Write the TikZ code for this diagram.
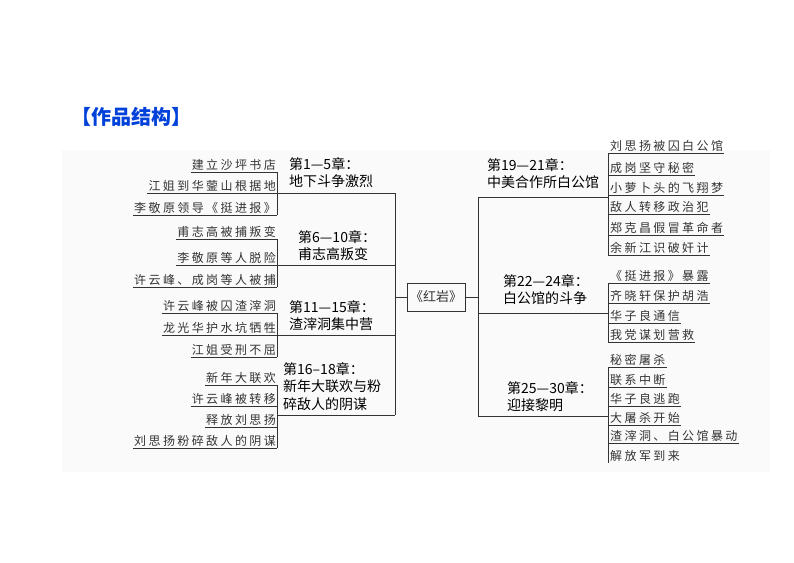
\documentclass[tikz,border=0pt]{standalone}
\usepackage{fontspec}
\setmainfont{Noto Sans CJK SC}
\newfontfamily\itemfont[LetterSpace=20]{Noto Sans CJK SC}
\begin{document}
\begin{tikzpicture}[x=1pt,y=-1pt,
  item/.style={inner xsep=1pt,inner ysep=1.5pt,font=\itemfont\fontsize{12}{12}\selectfont,text=black!80},
  chap/.style={anchor=north west,inner sep=0pt,align=left,font=\fontsize{14}{17.5}\selectfont},
  ln/.style={line width=0.9pt,black!80}]
\useasboundingbox (0,0) rectangle (794,562);
\fill[black!2] (62,150) rectangle (770,472);
\node[anchor=west,text=blue!70!cyan!85!black,font=\fontsize{20}{21}\selectfont\bfseries] (title) at (68,117) {【作品结构】};
% centre
\node[draw,ln,inner xsep=3pt,minimum width=53pt,minimum height=28pt,font=\fontsize{13}{13}\selectfont] (hy) at (436,297) {《红岩》};
\coordinate (lt) at (395,297); \coordinate (rt) at (478,297);
\draw[ln] (hy.west) -- (lt); \draw[ln] (hy.east) -- (rt);
\draw[ln] (395,193) -- (395,415);
\draw[ln] (478,197) -- (478,416);
\newcommand\litem[3]{\node[item,anchor=south east] (#1) at (277,#2) {#3}; \draw[ln] (#1.south west) -- (277,#2);}
\newcommand\ritem[3]{\node[item,anchor=south west] (#1) at (609,#2) {#3}; \draw[ln] (608,#2) -- (#1.south east);}
% left chapter 1
\draw[ln] (277,193) -- (395,193);
\draw[ln] (277,172) -- (277,215);
\litem{a1}{172}{建立沙坪书店}
\litem{a2}{193}{江姐到华蓥山根据地}
\litem{a3}{215}{李敬原领导《挺进报》}
\node[chap] (c1) at (289,157) {第1—5章：\\地下斗争激烈};
% chapter 2
\draw[ln] (277,265) -- (395,265);
\draw[ln] (277,239) -- (277,287);
\litem{b1}{239}{甫志高被捕叛变}
\litem{b2}{265}{李敬原等人脱险}
\litem{b3}{287}{许云峰、成岗等人被捕}
\node[chap] (c2) at (298,230) {第6—10章：\\甫志高叛变};
% chapter 3
\draw[ln] (277,335) -- (395,335);
\draw[ln] (277,313) -- (277,357);
\litem{d1}{313}{许云峰被囚渣滓洞}
\litem{d2}{335}{龙光华护水坑牺牲}
\litem{d3}{357}{江姐受刑不屈}
\node[chap] (c3) at (289,300) {第11—15章：\\渣滓洞集中营};
% chapter 4
\draw[ln] (277,415) -- (395,415);
\draw[ln] (277,385) -- (277,448);
\litem{e1}{385}{新年大联欢}
\litem{e2}{406}{许云峰被转移}
\litem{e3}{427}{释放刘思扬}
\litem{e4}{448}{刘思扬粉碎敌人的阴谋}
\node[chap] (c4) at (283,362) {第16–18章：\\新年大联欢与粉\\碎敌人的阴谋};
% right chapter 5
\draw[ln] (478,197) -- (608,197);
\draw[ln] (608,153) -- (608,256);
\ritem{f1}{153}{刘思扬被囚白公馆}
\ritem{f2}{175}{成岗坚守秘密}
\ritem{f3}{195}{小萝卜头的飞翔梦}
\ritem{f4}{214}{敌人转移政治犯}
\ritem{f5}{235}{郑克昌假冒革命者}
\ritem{f6}{255}{余新江识破奸计}
\node[chap] (c5) at (487,158) {第19—21章：\\中美合作所白公馆};
% chapter 6
\draw[ln] (478,313) -- (608,313);
\draw[ln] (608,283) -- (608,342);
\ritem{g1}{283}{《挺进报》暴露}
\ritem{g2}{303}{齐晓轩保护胡浩}
\ritem{g3}{323}{华子良通信}
\ritem{g4}{342}{我党谋划营救}
\node[chap] (c6) at (503,274) {第22—24章：\\白公馆的斗争};
% chapter 7
\draw[ln] (478,416) -- (608,416);
\draw[ln] (608,367) -- (608,463);
\ritem{h1}{367}{秘密屠杀}
\ritem{h2}{387}{联系中断}
\ritem{h3}{406}{华子良逃跑}
\ritem{h4}{425}{大屠杀开始}
\ritem{h5}{443}{渣滓洞、白公馆暴动}
\node[item,anchor=south west] (h6) at (609,463) {解放军到来};
\node[chap] (c7) at (507,381) {第25—30章：\\迎接黎明};
\end{tikzpicture}
\end{document}
